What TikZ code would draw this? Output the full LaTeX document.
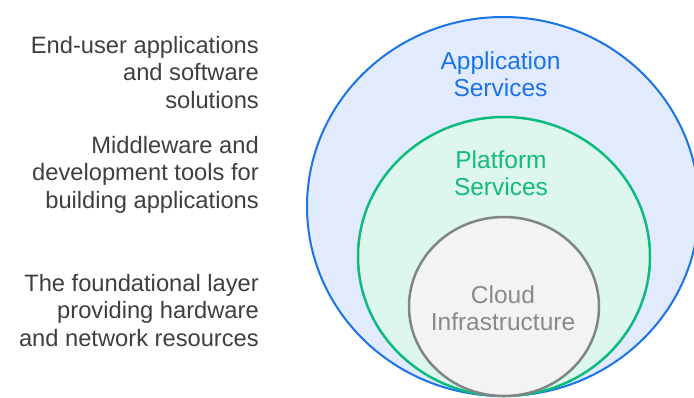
\documentclass[tikz,border=0pt]{standalone}
\usepackage{fontspec}
\setmainfont{Liberation Sans}
\usetikzlibrary{shapes.geometric}
\definecolor{appstroke}{HTML}{1A73E8}
\definecolor{appfill}{HTML}{E2EBFD}
\definecolor{platstroke}{HTML}{0DBB7F}
\definecolor{platfill}{HTML}{DEF7EE}
\definecolor{platText}{HTML}{13BB78}
\definecolor{infrastroke}{HTML}{7F8683}
\definecolor{infrafill}{HTML}{F3F3F3}
\definecolor{infraText}{HTML}{8A8A8A}
\definecolor{sideText}{HTML}{3F3F3F}
\tikzset{
  layer/.style={ellipse, inner sep=0pt, outer sep=0pt},
  sidelabel/.style={align=right, inner sep=0pt, text=sideText,
    font=\fontsize{23.7}{27.5}\selectfont},
  ringlabel/.style={align=center, inner sep=0pt,
    font=\fontsize{24.5}{27}\selectfont}
}
\begin{document}
\begin{tikzpicture}[x=1pt,y=-1pt]
\useasboundingbox (0,0) rectangle (694,397);
\fill[white] (0,0) rectangle (694,397);
\begin{scope}
\clip (0,0) rectangle (694,397);
\node[layer, draw=appstroke, fill=appfill, line width=2pt,
  minimum width=392pt, minimum height=379pt] (app) at (503,206.5) {};
\node[layer, draw=platstroke, fill=platfill, line width=2.5pt,
  minimum width=292pt, minimum height=279pt] (plat) at (504,256.5) {};
\node[layer, draw=infrastroke, fill=infrafill, line width=2.5pt,
  minimum width=190pt, minimum height=179pt] (infra) at (504,306.5) {};
\end{scope}
\node[ringlabel, text=appstroke, anchor=base] (applbl) at (500.5,96) {Application\\Services};
\node[ringlabel, text=platText, anchor=base] (platlbl) at (501,195) {Platform\\Services};
\node[ringlabel, text=infraText, anchor=base] (infralbl) at (503,330) {Cloud\\Infrastructure};
\node[sidelabel, anchor=base east] (side1) at (259,108) {End-user applications\\and software\\solutions};
\node[sidelabel, anchor=base east] (side2) at (259,208) {Middleware and\\development tools for\\building applications};
\node[sidelabel, anchor=base east] (side3) at (259,346) {The foundational layer\\providing hardware\\and network resources};
\end{tikzpicture}
\end{document}
